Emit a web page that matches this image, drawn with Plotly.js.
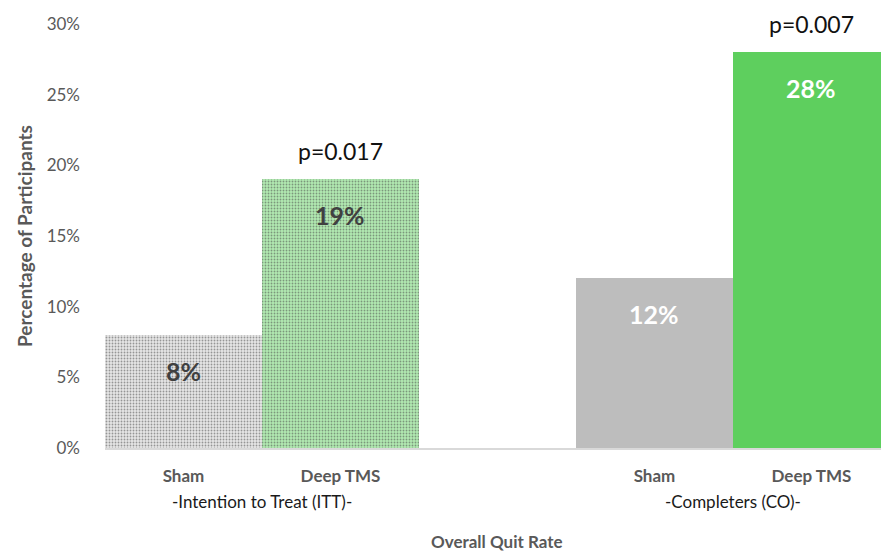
<!DOCTYPE html>
<html>
<head>
<meta charset="utf-8">
<script src="https://cdn.plot.ly/plotly-3.0.1.min.js"></script>
<style>html,body{margin:0;padding:0;background:#fff;}#chart{width:881px;height:553px;}</style>
</head>
<body>
<div id="chart"></div>
<script>
var positions = [0, 1, 3, 4];
var categories = ["Sham", "Deep TMS", "Sham", "Deep TMS"];
var values = [8, 19, 12, 28];
var valueLabels = ["8%", "19%", "12%", "28%"];
var groupLabels = ["-Intention to Treat (ITT)-", "-Completers (CO)-"];
var groupCenters = [0.5, 3.5];
var pLabels = ["p=0.017", "p=0.007"];
var pBarIndex = [1, 3];
var yTicks = [0, 5, 10, 15, 20, 25, 30];
var yTickLabels = ["0%", "5%", "10%", "15%", "20%", "25%", "30%"];

var fillColors = ["#e6e6e6", "#b2eab2", "#bdbdbd", "#5ecf5e"];
var fgColors = ["#d0d0d0", "#96de96", "#bdbdbd", "#5ecf5e"];
var patternShapes = [".", ".", "", ""];
var labelColors = ["#404040", "#404040", "#ffffff", "#ffffff"];

var FONT = "Lato, 'Open Sans', sans-serif";

var trace = {
  type: "bar",
  x: positions,
  y: values,
  width: 1,
  marker: {
    color: fillColors,
    line: {width: 0},
    pattern: {shape: patternShapes, fgcolor: fgColors, bgcolor: fillColors, size: 3, solidity: 0.3, fillmode: "overlay"}
  },
  hoverinfo: "none"
};

var annotations = [];
for (var i = 0; i < values.length; i++) {
  annotations.push({
    x: positions[i], y: values[i], xref: "x", yref: "y",
    text: "<b>" + valueLabels[i] + "</b>", showarrow: false,
    yshift: -36, yanchor: "middle",
    font: {family: FONT, size: 25, color: labelColors[i]}
  });
}
for (var j = 0; j < pLabels.length; j++) {
  var k = pBarIndex[j];
  annotations.push({
    x: positions[k], y: values[k], xref: "x", yref: "y",
    text: pLabels[j], showarrow: false,
    yshift: 28, yanchor: "middle",
    font: {family: FONT, size: 23, color: "#111111"}
  });
}
for (var g = 0; g < groupLabels.length; g++) {
  annotations.push({
    x: groupCenters[g], y: 0, xref: "x", yref: "paper",
    text: groupLabels[g], showarrow: false,
    yshift: -53, yanchor: "middle",
    font: {family: FONT, size: 17, color: "#1a1a1a"}
  });
}
annotations.push({
  x: 2, y: 0, xref: "x", yref: "paper",
  text: "<b>Overall Quit Rate</b>", showarrow: false,
  yshift: -93, yanchor: "middle",
  font: {family: FONT, size: 17, color: "#595959"}
});

var layout = {
  width: 881, height: 553,
  margin: {l: 105, r: 0, t: 24, b: 105},
  paper_bgcolor: "#ffffff", plot_bgcolor: "#ffffff",
  showlegend: false,
  bargap: 0,
  xaxis: {
    range: [-0.5, 4.443],
    tickvals: positions,
    ticktext: categories.map(function(c){return "<b>" + c + "</b>";}),
    tickfont: {family: FONT, size: 17, color: "#595959"},
    ticks: "", ticklabelstandoff: 12,
    showgrid: false, zeroline: false,
    showline: true, linecolor: "#d9d9d9", linewidth: 2
  },
  yaxis: {
    range: [0, 30],
    tickvals: yTicks,
    ticktext: yTickLabels,
    tickfont: {family: FONT, size: 17, color: "#595959"},
    ticks: "", ticklabelstandoff: 24,
    showgrid: false, zeroline: false, showline: false,
    title: {text: "<b>Percentage of Participants</b>", font: {family: FONT, size: 19, color: "#595959"}, standoff: 8}
  },
  annotations: annotations,
  font: {family: FONT}
};

Plotly.newPlot("chart", [trace], layout, {displayModeBar: false, staticPlot: true});
</script>
</body>
</html>
